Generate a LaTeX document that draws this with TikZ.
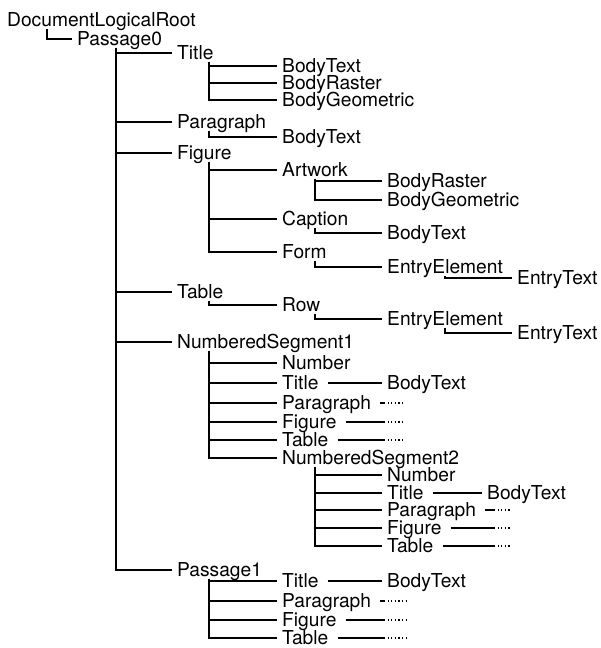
\documentclass[tikz,border=0pt]{standalone}
\usepackage{fontspec}
\setmainfont{TeX Gyre Heros}
\usetikzlibrary{positioning}
\newcommand{\treefont}{\fontsize{19.2}{21}\selectfont}
\tikzset{
    tag/.style={anchor=west, inner xsep=5pt, inner ysep=2pt, text height=13.5pt, text depth=0pt, font=\treefont},
    wire/.style={line width=1.3pt},
    tail/.style={line width=1.3pt, dash pattern=on 1.2pt off 2.4pt},
}

\begin{document}
\begin{tikzpicture}[x=1pt, y={(0pt,-1pt)}]
\useasboundingbox (0,0) rectangle (600,648);

% --- root ---
\node[tag] (root) at (2,20) {DocumentLogicalRoot};
\node[tag] (pas0) at (72,39) {Passage0};
\draw[wire] (root.south -| 47,0) |- (pas0.west);

% --- Passage0 ---
\node[tag] (tit) at (172,53) {Title};
\node[tag] (par) at (172,122) {Paragraph};
\node[tag] (fig) at (172,153) {Figure};
\node[tag] (tab) at (172,292) {Table};
\node[tag] (seg1) at (172,342) {NumberedSegment1};
\node[tag] (pas1) at (172,570) {Passage1};
\foreach \n in {tit,par,fig,tab,seg1,pas1}
    \draw[wire] (pas0.south -| 116,0) |- (\n.west);

% --- Title, Paragraph ---
\node[tag] (titA) at (277,66) {BodyText};
\node[tag] (titB) at (277,83) {BodyRaster};
\node[tag] (titC) at (277,100) {BodyGeometric};
\foreach \n in {titA,titB,titC}
    \draw[wire] (tit.south -| 209,0) |- (\n.west);
\node[tag] (parA) at (277,137) {BodyText};
\draw[wire] (par.south -| 209,0) |- (parA.west);

% --- Figure ---
\node[tag] (art) at (277,170) {Artwork};
\node[tag] (cap) at (277,219) {Caption};
\node[tag] (form) at (277,252) {Form};
\foreach \n in {art,cap,form}
    \draw[wire] (fig.south -| 209,0) |- (\n.west);
\node[tag] (artA) at (382,181) {BodyRaster};
\node[tag] (artB) at (382,200) {BodyGeometric};
\draw[wire] (art.south -| 315,0) |- (artA.west);
\draw[wire] (art.south -| 315,0) |- (artB.west);
\node[tag] (capA) at (382,233) {BodyText};
\draw[wire] (cap.south -| 315,0) |- (capA.west);
\node[tag] (formA) at (382,267) {EntryElement};
\node[tag] (formB) at (512,278) {EntryText};
\draw[wire] (form.south -| 315,0) |- (formA.west);
\draw[wire] (formA.south -| 445,0) |- (formB.west);

% --- Table ---
\node[tag] (row) at (277,305) {Row};
\node[tag] (rowA) at (382,319) {EntryElement};
\node[tag] (rowB) at (512,333) {EntryText};
\draw[wire] (tab.south -| 209,0) |- (row.west);
\draw[wire] (row.south -| 315,0) |- (rowA.west);
\draw[wire] (rowA.south -| 445,0) |- (rowB.west);

% --- NumberedSegment1 ---
\foreach \id/\y/\name in {num/363/Number, tit/383/Title, par/403/Paragraph, fig/422/Figure, tab/440/Table, seg/458/NumberedSegment2} {
    \node[tag] (s1\id) at (277,\y) {\name};
    \draw[wire] (seg1.south -| 209,0) |- (s1\id.west);
}
\node[tag] (s1titA) at (382,383) {BodyText};
\draw[wire, shorten <=4pt] (s1tit.east) -- (s1titA.west);
\foreach \n in {s1par,s1fig,s1tab} {
    \draw[wire, shorten <=4pt] (\n.east) -- (\n.east -| 384,0);
    \draw[tail] (\n.east -| 384,0) -- (\n.east -| 405,0);
}

% --- NumberedSegment2 ---
\foreach \id/\y/\name in {num/475/Number, tit/493/Title, par/510/Paragraph, fig/528/Figure, tab/546/Table} {
    \node[tag] (s2\id) at (382,\y) {\name};
    \draw[wire] (s1seg.south -| 315,0) |- (s2\id.west);
}
\node[tag] (s2titA) at (482,493) {BodyText};
\draw[wire, shorten <=4pt] (s2tit.east) -- (s2titA.west);
\foreach \n in {s2par,s2fig,s2tab} {
    \draw[wire, shorten <=4pt] (\n.east) -- (\n.east -| 494,0);
    \draw[tail] (\n.east -| 494,0) -- (\n.east -| 510,0);
}

% --- Passage1 ---
\foreach \id/\y/\name in {tit/581/Title, par/601/Paragraph, fig/620/Figure, tab/638/Table} {
    \node[tag] (p1\id) at (277,\y) {\name};
    \draw[wire] (pas1.south -| 209,0) |- (p1\id.west);
}
\node[tag] (p1titA) at (382,581) {BodyText};
\draw[wire, shorten <=4pt] (p1tit.east) -- (p1titA.west);
\foreach \n in {p1par,p1fig,p1tab} {
    \draw[wire, shorten <=4pt] (\n.east) -- (\n.east -| 384,0);
    \draw[tail] (\n.east -| 384,0) -- (\n.east -| 406,0);
}
\end{tikzpicture}
\end{document}
